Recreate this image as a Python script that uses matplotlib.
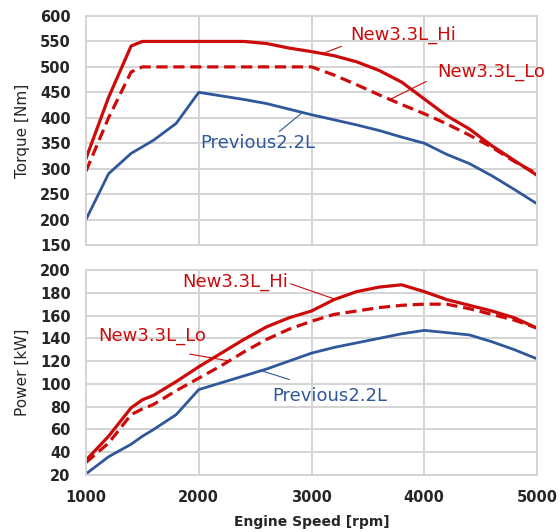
import matplotlib
matplotlib.use("Agg")
import matplotlib.pyplot as plt

# ── data ───────────────────────────────────────────────────────────────────────
rpm = [1000, 1200, 1400, 1500, 1600, 1800, 2000, 2200, 2400, 2600, 2800, 3000,
       3200, 3400, 3600, 3800, 4000, 4200, 4400, 4600, 4800, 5000]

torque_hi   = [320, 440, 541, 550, 550, 550, 550, 550, 550, 546, 537, 530,
               522, 510, 493, 470, 437, 404, 378, 345, 316, 287]
torque_lo   = [295, 400, 490, 500, 500, 500, 500, 500, 500, 500, 500, 500,
               484, 465, 445, 426, 408, 388, 366, 342, 314, 290]
torque_prev = [200, 290, 330, 343, 356, 389, 450, 443, 436, 428, 417, 406,
               396, 386, 375, 362, 350, 328, 310, 286, 259, 231]

power_hi   = [33, 54, 79, 86, 90, 102, 115, 127, 139, 150, 158, 164,
              174, 181, 185, 187, 181, 174, 169, 164, 158, 149]
power_lo   = [31, 48, 73, 78, 82, 94, 105, 116, 128, 139, 148, 155,
              161, 164, 167, 169, 170, 170, 166, 161, 156, 149]
power_prev = [21, 36, 47, 54, 60, 73, 95, 101, 107, 113, 120, 127,
              132, 136, 140, 144, 147, 145, 143, 137, 130, 122]

RED  = "#cc0a0a"
BLUE = "#2f579b"
GRID = "#d4d4d4"

plt.rcParams["font.family"] = ["DejaVu Sans"]

fig = plt.figure(figsize=(5.6, 5.32), dpi=100)
ax1 = fig.add_axes([86/560, 1 - 245/532, 451/560, 229/532])
ax2 = fig.add_axes([86/560, 1 - 475/532, 451/560, 205/532])


def style(ax):
    ax.set_xlim(1000, 5000)
    ax.set_xticks([1000, 2000, 3000, 4000, 5000])
    ax.grid(True, color=GRID, linewidth=1.4)
    ax.set_axisbelow(True)
    for s in ax.spines.values():
        s.set_color(GRID)
        s.set_linewidth(1.4)
    ax.tick_params(length=0, labelsize=10.5, pad=11, labelcolor="#262626")
    for lab in ax.get_yticklabels() + ax.get_xticklabels():
        lab.set_fontweight("bold")


def label(ax, text, xy, xytext, color, relpos):
    ax.annotate(text, xy=xy, xytext=xytext, color=color, fontsize=13,
                va="center", ha="left",
                arrowprops=dict(arrowstyle="-", color=color, lw=0.8,
                                shrinkA=0, shrinkB=0, relpos=relpos))


# ── torque ─────────────────────────────────────────────────────────────────────
ax1.plot(rpm, torque_hi, color=RED, lw=2.3)
ax1.plot(rpm, torque_lo, color=RED, lw=2.3, ls=(0, (3.5, 1.8)))
ax1.plot(rpm, torque_prev, color=BLUE, lw=2.0)
ax1.set_ylim(150, 600)
ax1.set_yticks(range(150, 601, 50))
style(ax1)
ax1.set_xticklabels([])
ax1.set_ylabel("Torque [Nm]", fontsize=11, labelpad=7, color="#262626")

label(ax1, "New3.3L_Hi", (3120, 528), (3341, 562), RED, (-0.08, -0.1))
label(ax1, "New3.3L_Lo", (3696, 436), (4113, 489), RED, (-0.1, 0.0))
label(ax1, "Previous2.2L", (2917, 410), (2011, 350), BLUE, (0.68, 1.1))

# ── power ──────────────────────────────────────────────────────────────────────
ax2.plot(rpm, power_hi, color=RED, lw=2.3)
ax2.plot(rpm, power_lo, color=RED, lw=2.3, ls=(0, (3.5, 1.8)))
ax2.plot(rpm, power_prev, color=BLUE, lw=2.0)
ax2.set_ylim(20, 200)
ax2.set_yticks(range(20, 201, 20))
style(ax2)
ax2.set_ylabel("Power [kW]", fontsize=11, labelpad=7, color="#262626")
ax2.set_xlabel("Engine Speed [rpm]", fontsize=10, fontweight="bold",
               labelpad=7, color="#262626")

label(ax2, "New3.3L_Hi", (3190, 175), (1851, 189.5), RED, (1.0, 0.45))
label(ax2, "New3.3L_Lo", (2277, 120), (1106, 142), RED, (0.85, -0.5))
label(ax2, "Previous2.2L", (2543, 112), (2650, 89.6), BLUE, (0.15, 1.4))

plt.savefig("out.png", dpi=100)
plt.close()
